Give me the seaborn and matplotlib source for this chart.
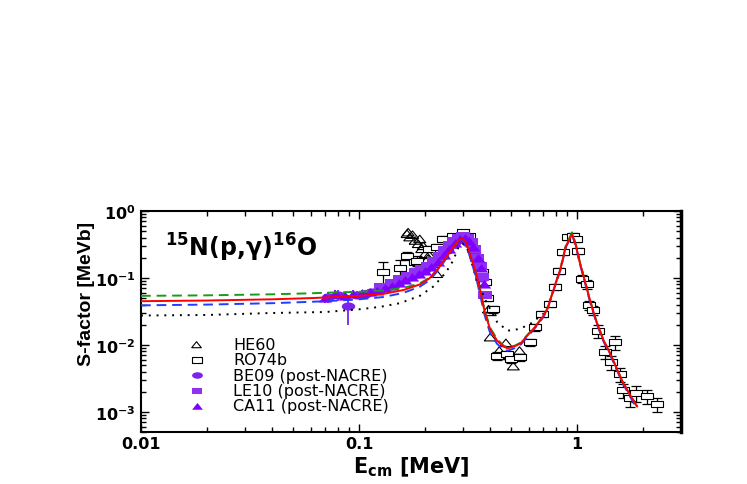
import numpy as np
import pandas as pd
import matplotlib
matplotlib.use("Agg")
import matplotlib.pyplot as plt
import seaborn as sns

# ---------------- data ----------------
# R-matrix fits
E_red = [0.01, 0.02, 0.04, 0.06, 0.08, 0.10, 0.13, 0.16, 0.19, 0.21, 0.23, 0.25, 0.27, 0.285, 0.297,
         0.31, 0.327, 0.345, 0.36, 0.375, 0.385, 0.40, 0.43, 0.46, 0.48, 0.52, 0.55, 0.60, 0.65, 0.70,
         0.73, 0.78, 0.84, 0.89, 0.95, 0.99, 1.03, 1.07, 1.15, 1.23, 1.32, 1.41, 1.52, 1.62, 1.75, 1.89]
S_red = [0.045, 0.046, 0.048, 0.050, 0.052, 0.054, 0.058, 0.066, 0.080, 0.098, 0.135, 0.20, 0.285, 0.36, 0.39,
         0.34, 0.20, 0.115, 0.064, 0.034, 0.025, 0.017, 0.0116, 0.0095, 0.0089, 0.0096, 0.0105, 0.0145, 0.0194, 0.027,
         0.034, 0.066, 0.136, 0.30, 0.45, 0.30, 0.171, 0.108, 0.045, 0.022, 0.012, 0.0078, 0.0045, 0.0028, 0.0018, 0.0012]
S_green = [0.054, 0.055, 0.057, 0.059, 0.061, 0.062, 0.065, 0.071, 0.083, 0.100, 0.135, 0.195, 0.28, 0.35, 0.38,
           0.33, 0.20, 0.115, 0.066, 0.036, 0.027, 0.018, 0.0122, 0.0098, 0.0092, 0.0098, 0.0108, 0.0148, 0.0196, 0.027,
           0.034, 0.066, 0.138, 0.31, 0.48, 0.31, 0.175, 0.110, 0.046, 0.022, 0.012, 0.0078, 0.0045, 0.0028, 0.0018, 0.0012]
S_blue = [0.039, 0.040, 0.042, 0.044, 0.046, 0.048, 0.052, 0.060, 0.074, 0.092, 0.128, 0.19, 0.28, 0.35, 0.37,
          0.32, 0.18, 0.100, 0.055, 0.030, 0.022, 0.015, 0.0104, 0.0085, 0.0082, 0.0090, 0.0100, 0.0138, 0.0188, 0.026,
          0.033, 0.064, 0.132, 0.29, 0.44, 0.29, 0.165, 0.104, 0.043, 0.021, 0.0115, 0.0075, 0.0043, 0.0027, 0.0017, 0.0011]
E_dot = [0.01, 0.02, 0.04, 0.07, 0.10, 0.125, 0.154, 0.19, 0.22, 0.25, 0.27, 0.285, 0.297, 0.31, 0.32, 0.34,
         0.36, 0.385, 0.43, 0.48, 0.545, 0.61, 0.70, 0.73, 0.78, 0.84, 0.89, 0.95, 0.99, 1.03, 1.07, 1.15,
         1.23, 1.32, 1.41, 1.52, 1.62, 1.75, 1.89]
S_dot = [0.0275, 0.028, 0.030, 0.031, 0.034, 0.037, 0.042, 0.054, 0.075, 0.12, 0.18, 0.28, 0.33, 0.30, 0.23, 0.115,
         0.070, 0.043, 0.022, 0.0163, 0.0173, 0.0206, 0.029, 0.035, 0.066, 0.136, 0.30, 0.45, 0.30, 0.171, 0.108, 0.045,
         0.022, 0.012, 0.0078, 0.0045, 0.0028, 0.0018, 0.0012]

# HE60 (open triangles)
E_he60 = [0.166, 0.168, 0.171, 0.176, 0.181, 0.187, 0.190, 0.194, 0.197, 0.201, 0.207, 0.210, 0.215, 0.227,
          0.393, 0.40, 0.40, 0.44, 0.472, 0.49, 0.51, 0.545]
S_he60 = [0.454, 0.48, 0.405, 0.44, 0.36, 0.322, 0.38, 0.271, 0.30, 0.228, 0.192, 0.22, 0.162, 0.115,
          0.034, 0.031, 0.013, 0.0082, 0.0107, 0.0068, 0.0048, 0.0082]

# RO74b (open squares with error bars)
E_ro74 = [0.129, 0.154, 0.166, 0.181, 0.184, 0.21, 0.227, 0.243, 0.27, 0.30, 0.32, 0.367, 0.38, 0.386, 0.41,
          0.43, 0.48, 0.50, 0.545, 0.61, 0.64, 0.688, 0.75, 0.79, 0.83, 0.86, 0.91, 0.96, 0.99, 1.01, 1.05,
          1.11, 1.13, 1.19, 1.25, 1.34, 1.44, 1.50, 1.58, 1.62, 1.75, 1.87, 2.10, 2.33]
S_ro74 = [0.122, 0.139, 0.215, 0.171, 0.18, 0.27, 0.287, 0.382, 0.419, 0.48, 0.419, 0.122, 0.086, 0.051, 0.034,
          0.0069, 0.0072, 0.0062, 0.0066, 0.011, 0.0184, 0.029, 0.041, 0.073, 0.128, 0.24, 0.405, 0.43, 0.382, 0.255, 0.097,
          0.081, 0.039, 0.033, 0.0163, 0.0078, 0.0055, 0.011, 0.0037, 0.0021, 0.0016, 0.0019, 0.0017, 0.0013]
dS_ro74 = [0.05, 0.045, 0.03, 0.03, 0.03, 0.03, 0.03, 0.035, 0.035, 0.04, 0.035, 0.012, 0.008, 0.005, 0.004,
           0.0009, 0.0009, 0.0008, 0.0008, 0.0012, 0.002, 0.003, 0.004, 0.007, 0.012, 0.022, 0.035, 0.037, 0.033, 0.025, 0.012,
           0.012, 0.006, 0.005, 0.0035, 0.0017, 0.0013, 0.0025, 0.0009, 0.0005, 0.0004, 0.0005, 0.0004, 0.0003]

# BE09 (filled ellipses)
E_be09 = [0.072, 0.080, 0.089, 0.098, 0.106, 0.114, 0.123, 0.134, 0.146, 0.158, 0.170, 0.184, 0.198,
          0.212, 0.226, 0.240, 0.254, 0.268, 0.282, 0.296, 0.310, 0.324, 0.338, 0.352, 0.366]
S_be09 = [0.052, 0.055, 0.038, 0.056, 0.058, 0.062, 0.066, 0.073, 0.082, 0.093, 0.103, 0.115, 0.130,
          0.150, 0.175, 0.215, 0.26, 0.32, 0.37, 0.40, 0.38, 0.32, 0.24, 0.17, 0.10]
dS_be09 = [0.010, 0.010, 0.018, 0.008, 0.007, 0.007, 0.007, 0.007, 0.007, 0.008, 0.008, 0.009, 0.010,
           0.011, 0.012, 0.014, 0.016, 0.018, 0.02, 0.02, 0.02, 0.018, 0.014, 0.01, 0.007]

# LE10 (filled rectangles)
E_le10 = [0.126, 0.142, 0.155, 0.168, 0.182, 0.195, 0.208, 0.222, 0.236, 0.249, 0.262, 0.274, 0.287,
          0.300, 0.312, 0.325, 0.337, 0.348, 0.358, 0.368, 0.378]
S_le10 = [0.074, 0.085, 0.097, 0.108, 0.121, 0.134, 0.152, 0.180, 0.215, 0.26, 0.31, 0.36, 0.40,
          0.42, 0.40, 0.34, 0.27, 0.20, 0.15, 0.105, 0.055]

# CA11 (filled triangles)
E_ca11 = [0.070, 0.078, 0.086, 0.094, 0.103, 0.112, 0.121, 0.131, 0.141, 0.152, 0.163, 0.175, 0.188,
          0.201, 0.215, 0.230, 0.245, 0.260, 0.275, 0.290, 0.305, 0.320, 0.335, 0.350, 0.362, 0.374]
S_ca11 = [0.050, 0.057, 0.054, 0.058, 0.060, 0.061, 0.064, 0.070, 0.076, 0.084, 0.092, 0.102, 0.114,
          0.128, 0.146, 0.175, 0.22, 0.27, 0.33, 0.38, 0.40, 0.36, 0.29, 0.20, 0.14, 0.08]
dS_ca11 = [0.008, 0.008, 0.008, 0.007, 0.006, 0.006, 0.006, 0.006, 0.006, 0.006, 0.007, 0.007, 0.008,
           0.008, 0.009, 0.01, 0.012, 0.014, 0.016, 0.018, 0.018, 0.016, 0.014, 0.01, 0.008, 0.006]

x_ticks = [0.01, 0.1, 1]
x_ticklabels = ["0.01", "0.1", "1"]
y_ticks = [1e-3, 1e-2, 1e-1, 1]
y_ticklabels = [r"$\mathbf{10^{-3}}$", r"$\mathbf{10^{-2}}$", r"$\mathbf{10^{-1}}$", r"$\mathbf{10^{0}}$"]
legend_labels = ["HE60", "RO74b", "BE09 (post-NACRE)", "LE10 (post-NACRE)", "CA11 (post-NACRE)"]

# ---------------- style ----------------
sns.set_style("ticks", rc={"axes.edgecolor": "black", "xtick.color": "black", "ytick.color": "black",
                           "text.color": "black", "axes.labelcolor": "black"})
plt.rcParams["font.family"] = ["DejaVu Sans"]
plt.rcParams["mathtext.fontset"] = "custom"
plt.rcParams["mathtext.rm"] = "DejaVu Sans:bold"
plt.rcParams["mathtext.it"] = "DejaVu Sans:bold"
plt.rcParams["mathtext.bf"] = "DejaVu Sans:bold"
plt.rcParams["mathtext.sf"] = "DejaVu Sans:bold"

# squashed marker shapes (the original is horizontally stretched)
tri = [(-1, -0.6), (1, -0.6), (0, 0.65), (-1, -0.6)]
rect = [(-1, -0.58), (1, -0.58), (1, 0.58), (-1, 0.58), (-1, -0.58)]
ang = np.linspace(0, 2 * np.pi, 25)
ell = list(zip(np.cos(ang), 0.6 * np.sin(ang)))

purple_c = "#7b22ee"
purple_s = "#9030f0"
purple_t = "#8000ff"

fig = plt.figure(figsize=(7.47, 4.85), dpi=100)
ax = fig.add_axes([0.1888, 0.107, 0.7228, 0.456])
ax.set_xscale("log")
ax.set_yscale("log")

# data points
sns.scatterplot(x=E_he60, y=S_he60, ax=ax, marker=tri, s=75, facecolor="none", edgecolor="black",
                linewidth=0.8, label=legend_labels[0], zorder=3)
ax.errorbar(E_ro74, S_ro74, yerr=dS_ro74, fmt="none", ecolor="black", elinewidth=0.9, capsize=3.5,
            capthick=0.9, zorder=3)
sns.scatterplot(x=E_ro74, y=S_ro74, ax=ax, marker=rect, s=70, facecolor="white", edgecolor="black",
                linewidth=0.8, label=legend_labels[1], zorder=3)
ax.errorbar(E_be09, S_be09, yerr=dS_be09, fmt="none", ecolor=purple_c, elinewidth=1.3, zorder=4)
sns.scatterplot(x=E_be09, y=S_be09, ax=ax, marker=ell, s=95, color=purple_c, edgecolor=purple_c,
                linewidth=0, label=legend_labels[2], zorder=4)
sns.scatterplot(x=E_le10, y=S_le10, ax=ax, marker=rect, s=90, color=purple_s, edgecolor=purple_s,
                linewidth=0, label=legend_labels[3], zorder=4)
ax.errorbar(E_ca11, S_ca11, yerr=dS_ca11, fmt="none", ecolor=purple_t, elinewidth=1.3, zorder=4)
sns.scatterplot(x=E_ca11, y=S_ca11, ax=ax, marker=tri, s=95, color=purple_t, edgecolor=purple_t,
                linewidth=0, label=legend_labels[4], zorder=4)

# fit curves
sns.lineplot(x=E_dot, y=S_dot, ax=ax, color="black", linestyle=(0, (1, 3)), linewidth=1.4, zorder=5)
sns.lineplot(x=E_red, y=S_green, ax=ax, color="#1a9a1a", linestyle=(0, (5, 3)), linewidth=1.4, zorder=5)
sns.lineplot(x=E_red, y=S_blue, ax=ax, color="#1f3fff", linestyle=(0, (5, 3)), linewidth=1.4, zorder=5)
sns.lineplot(x=E_red, y=S_red, ax=ax, color="red", linestyle="-", linewidth=1.4, zorder=6)

ax.set_xlim(0.01, 3.0)
ax.set_ylim(5e-4, 1.0)

ax.set_xticks(x_ticks)
ax.set_xticklabels(x_ticklabels, fontsize=11.5, fontweight="bold")
ax.set_yticks(y_ticks)
ax.set_yticklabels(y_ticklabels, fontsize=11.5)
ax.tick_params(which="both", direction="in", top=True, right=True, width=1.0, colors="black")
ax.tick_params(which="major", length=6, pad=4)
ax.tick_params(axis="x", which="major", pad=3)
ax.tick_params(which="minor", length=3.5)
for side in ["left", "bottom", "top"]:
    ax.spines[side].set_linewidth(1.5)
ax.spines["right"].set_linewidth(2.5)

ax.set_xlabel(r"E$_{\mathrm{cm}}$ [MeV]", fontsize=15, fontweight="bold")
ax.xaxis.set_label_coords(0.5, -0.1)
ax.set_ylabel("S-factor [MeVb]", family="Liberation Sans", fontsize=14, fontweight="bold")
ax.yaxis.set_label_coords(-0.085, 0.63)

ax.text(0.044, 0.80, r"$^{15}$N(p,$\gamma$)$^{16}$O", transform=ax.transAxes,
        fontsize=17, fontweight="bold", va="baseline", ha="left")

leg = ax.legend(loc="upper left", bbox_to_anchor=(0.085, 0.43), frameon=False, fontsize=11.5,
                handlelength=1.2, handletextpad=1.7, labelspacing=0.02, borderpad=0, borderaxespad=0,
                markerscale=0.8)

fig.savefig("out.png", dpi=100)
